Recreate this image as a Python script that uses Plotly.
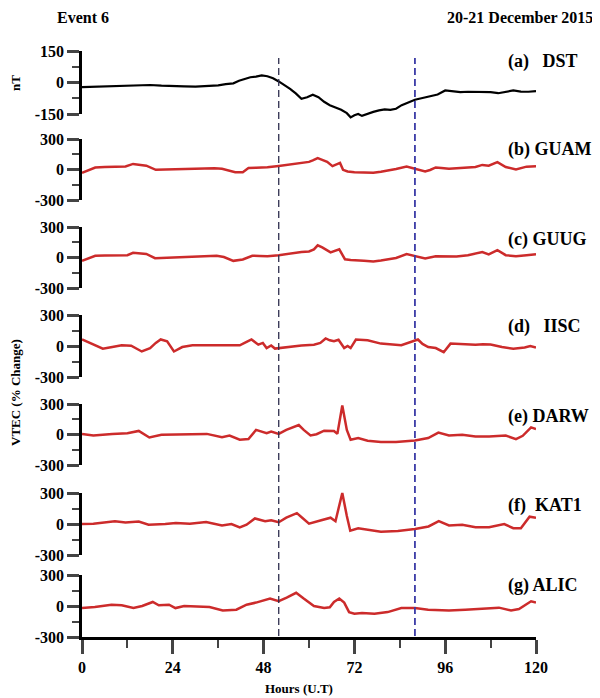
import plotly.graph_objects as go

# ---------------- data ----------------
dst_hours = [0, 3, 6, 9, 12, 15, 18, 21, 24, 27, 30, 33, 36, 38, 40, 41.5, 43, 44.5, 46, 47.5,
             49, 50.5, 52, 53.5, 55, 56.5, 58, 59.5, 61, 62.5, 64, 65.5, 67, 68.5, 70, 71, 72, 73, 74, 75.5,
             77, 78.5, 80, 81.5, 83, 84.5, 86, 88, 90, 92, 94, 96, 98, 100, 102, 104, 106, 108, 110, 112,
             114, 116, 118, 120]
dst_nT = [-22, -20, -19, -17, -15, -13, -12, -15, -18, -18, -20, -17, -14, -8, -4, 8, 18, 25, 28, 34,
          30, 20, 5, -12, -30, -52, -78, -70, -58, -70, -92, -108, -120, -130, -146, -166, -156, -150, -159, -148,
          -140, -133, -128, -130, -125, -108, -96, -82, -74, -66, -57, -38, -43, -46, -44, -44, -43, -46, -51, -44,
          -38, -43, -44, -41]

guam_hours = [0, 1.5, 3.5, 6, 9, 11.5, 13.5, 15, 17, 19.5, 22, 24, 27, 30, 33, 35, 37, 39, 40.5, 42.5,
              44, 46, 49, 52, 54, 56, 58, 60, 61, 62.3, 63.5, 64.8, 66.2, 67.5, 68.2, 69, 70.2, 72, 74.5, 77,
              79, 81, 83, 85.8, 88, 90.7, 92, 93.5, 95, 97, 99, 102, 104, 105.8, 107.5, 109.8, 112, 114.7, 117.5, 120]
guam_pct = [-33, -10, 20, 25, 27, 30, 55, 45, 38, -3, 0, 3, 8, 13, 15, 13, 8, -10, -26, -26,
            15, 18, 22, 35, 45, 55, 62, 75, 90, 112, 95, 75, 33, 50, 65, -3, -20, -27, -30, -33,
            -22, -10, 5, 30, 8, -20, -5, 20, 15, 8, 12, 17, 25, 45, 38, 72, 25, 0, 28, 33]

guug_hours = [0, 1.5, 3.5, 6, 9, 12, 13.5, 15, 17, 19.3, 22, 25, 28, 31, 34, 35.6, 37.5, 40, 42.5, 45,
              47, 49, 52, 54, 56, 58, 60, 61.3, 62.3, 63.5, 65.7, 67, 68, 69.5, 71, 74.5, 77, 79, 81, 83,
              85.8, 88, 90.7, 93.5, 97, 99, 102, 104, 105.8, 107.5, 109.8, 112, 114.7, 117.5, 120]
guug_pct = [-33, -10, 17, 20, 20, 22, 46, 40, 35, -7, -3, 0, 3, 7, 10, 17, 5, -33, -20, 17,
            15, 13, 23, 35, 50, 55, 60, 80, 120, 100, 50, 65, 80, -17, -25, -33, -40, -30, -20, -5,
            33, 13, -10, 13, 7, 10, 23, 35, 53, 30, 72, 23, 13, 23, 33]

iisc_hours = [0, 1.5, 3, 5.5, 8, 10.5, 13, 15.8, 18, 19.5, 20.8, 22.5, 24.3, 26.5, 29.2, 35, 41.7, 43.5, 44.8, 46.6,
              47.8, 48.8, 50, 51, 52, 54.5, 58, 61.3, 63, 64.4, 65.5, 66.6, 67.8, 69.3, 70.2, 71, 72.4, 75.5, 79, 84.4,
              87.1, 88.8, 90, 91.5, 93.5, 95.6, 97.4, 100.5, 104, 106, 108, 111, 114, 117, 118.5, 120]
iisc_pct = [63, 40, 13, -26, -10, 7, 3, -53, -20, 30, 63, 45, -53, -10, 7, 7, 7, 40, 63, 13,
            30, -20, 5, -25, -20, -5, 5, 13, 30, 73, 55, 46, 60, -20, 0, -20, 63, 56, 23, 7,
            46, 63, 20, -10, -20, -60, 23, 17, 13, 17, 15, -10, -26, -15, 0, -15]

darw_hours = [0, 3, 8, 12, 15, 17.8, 21, 25, 30, 33, 37, 39, 41.7, 44, 46, 48.8, 50, 52, 54, 57.3,
              58.6, 60.4, 62, 64, 66.6, 67.5, 68.8, 70, 71, 73, 75.5, 79, 83, 88, 91.5, 94.2, 97, 100.5, 104, 107.6,
              112, 114.7, 116.5, 118.7, 120]
darw_pct = [6, -10, 6, 13, 35, -29, -3, 0, -3, 6, -26, -10, -51, -45, 45, 13, 29, 6, 45, 93,
            45, -10, 3, 38, 35, 6, 285, 45, -51, -35, -61, -74, -74, -58, -35, 19, -10, -3, -19, -19,
            -10, -45, -13, 70, 54]

kat1_hours = [0, 3, 8.7, 11.5, 15, 17.6, 22, 24.8, 28.5, 32.8, 37, 39.5, 41.7, 43.5, 45.7, 48.4, 50, 52, 54, 56.8,
              58.2, 60, 63, 65.7, 67, 68.8, 70, 70.9, 73, 76.5, 79, 83.5, 88, 91.6, 94.3, 97, 100.5, 104, 107.6, 111.6,
              114, 116, 118.3, 120]
kat1_pct = [0, 3, 27, 14, 24, -7, 0, 10, 3, 20, -14, 0, -34, -7, 54, 27, 37, 17, 61, 105,
            61, 3, 34, 61, 27, 300, 78, -65, -41, -65, -75, -68, -48, -24, 27, -14, -7, -31, -31, 0,
            -41, -41, 71, 61]

alic_hours = [0, 3.4, 7.8, 10.5, 13.6, 15.9, 18.7, 20.3, 23, 24.7, 27, 33.7, 37.2, 40.8, 43.5, 46, 49.7, 52, 54.1, 56.6,
              58.6, 61.3, 64, 65.5, 66.6, 68, 69.3, 70.6, 72, 74, 77.3, 80.8, 84.4, 88, 91.5, 97, 101.3, 105.8, 110.2, 113.4,
              115.5, 118.7, 120]
alic_pct = [-20, -10, 13, 7, -20, 0, 39, 7, 13, -20, 0, -10, -43, -36, 13, 33, 72, 46, 82, 128,
            72, 0, -20, -13, 39, 72, 33, -59, -75, -68, -75, -59, -20, -20, -36, -43, -36, -26, -16, -43,
            -30, 46, 33]

panel_labels = ["(a)\u00a0\u00a0\u00a0DST", "(b) GUAM", "(c) GUUG", "(d)\u00a0\u00a0\u00a0IISC",
                "(e) DARW", "(f)\u00a0\u00a0KAT1", "(g) ALIC"]
event_lines = [52, 88]
hour_ticks = [0, 24, 48, 72, 96, 120]

# ---------------- layout helpers ----------------
# the page body has an 8px margin, so the figure is drawn 8px in from the top-left
OFF = 8
W, H = 600 - OFF, 698 - OFF
FONT = "Liberation Serif, Times New Roman, serif"
RED = "#cc2b2b"
PAD = 14  # px of room above/below each panel so curves can overshoot the spine


def px_x(x):
    return (x - OFF) / W


def px_y(y):
    return 1 - (y - OFF) / H


series = [
    (dst_hours, dst_nT, "black", 150),
    (guam_hours, guam_pct, RED, 300),
    (guug_hours, guug_pct, RED, 300),
    (iisc_hours, iisc_pct, RED, 300),
    (darw_hours, darw_pct, RED, 300),
    (kat1_hours, kat1_pct, RED, 300),
    (alic_hours, alic_pct, RED, 300),
]
# panel top/bottom in (screen) pixels
rows_px = [(51, 114), (139, 200), (227, 288), (315, 377), (404, 465), (493, 555), (575, 637)]
x_dom = [px_x(82), px_x(536)]

fig = go.Figure()
layout = dict(
    width=W, height=H,
    margin=dict(l=0, r=0, t=0, b=0, autoexpand=False),
    paper_bgcolor="white", plot_bgcolor="rgba(0,0,0,0)",
    showlegend=False,
    font=dict(family=FONT, color="black"),
)

n = len(series)
for i, (hrs, vals, col, lim) in enumerate(series, start=1):
    sfx = "" if i == 1 else str(i)
    dsfx = str(i + n)  # hidden data axis, same scale, a little taller
    top, bot = rows_px[i - 1]
    extra = PAD * 2 * lim / (bot - top)
    # empty trace so the spine subplot (x_i, y_i) gets drawn
    fig.add_trace(go.Scatter(x=[None], y=[None], mode="lines",
                             xaxis="x" + sfx, yaxis="y" + sfx, hoverinfo="skip"))
    fig.add_trace(go.Scatter(
        x=hrs, y=vals, mode="lines",
        line=dict(color=col, width=2.5 if col == RED else 2.2),
        xaxis="x" + sfx, yaxis="y" + dsfx, hoverinfo="skip",
    ))
    last = i == n
    layout["xaxis" + sfx] = dict(
        domain=x_dom, range=[0, 120], anchor="y" + sfx, automargin=False,
        showgrid=False, zeroline=False,
        showline=last, linecolor="black", linewidth=2.5,
        ticks="outside" if last else "", ticklen=14, tickwidth=2.5,
        tickvals=hour_ticks if last else [], showticklabels=last,
        tickfont=dict(family=FONT, size=16, weight="bold"),
        minor=dict(ticks="outside" if last else "", ticklen=8, tickwidth=2.2,
                   tickvals=[12, 36, 60, 84, 108] if last else []),
    )
    layout["yaxis" + sfx] = dict(
        domain=[px_y(bot), px_y(top)], range=[-lim, lim], anchor="x" + sfx, automargin=False,
        showgrid=False, zeroline=False,
        showline=True, linecolor="black", linewidth=2.5,
        ticks="outside", ticklen=12, tickwidth=2.5,
        tickvals=[-lim, 0, lim], ticktext=["-%d" % lim, "0", str(lim)],
        tickfont=dict(family=FONT, size=16, weight="bold"),
        minor=dict(ticks="outside", ticklen=7, tickwidth=2.2, tickvals=[-lim / 2, lim / 2]),
    )
    layout["yaxis" + dsfx] = dict(
        domain=[px_y(bot + PAD), px_y(top - PAD)], range=[-lim - extra, lim + extra],
        anchor="x" + sfx, visible=False, automargin=False,
        showgrid=False, zeroline=False,
    )

fig.update_layout(**layout)

# vertical dashed event markers
for hx, col, wd in zip(event_lines, ["#2e2e4e", "#3b3ba6"], [1.3, 1.8]):
    fig.add_shape(type="line", xref="x7", yref="paper",
                  x0=hx, x1=hx, y0=px_y(636), y1=px_y(58),
                  line=dict(color=col, width=wd, dash="7px,4px"))

ann = []
# station labels
label_y = [62, 150, 239, 327, 416, 505, 585]
for txt, yy in zip(panel_labels, label_y):
    ann.append(dict(text=txt, x=px_x(506), y=px_y(yy), xref="paper", yref="paper",
                    xanchor="left", yanchor="middle", showarrow=False,
                    font=dict(family=FONT, size=18, weight="bold")))
# headers
ann.append(dict(text="Event 6", x=px_x(55), y=px_y(18), xref="paper", yref="paper",
                xanchor="left", yanchor="middle", showarrow=False,
                font=dict(family=FONT, size=16, weight="bold")))
ann.append(dict(text="20-21 December 2015", x=px_x(595), y=px_y(18), xref="paper", yref="paper",
                xanchor="right", yanchor="middle", showarrow=False,
                font=dict(family=FONT, size=16, weight="bold")))
# axis titles
ann.append(dict(text="nT", x=px_x(15), y=px_y(83), xref="paper", yref="paper", textangle=-90,
                xanchor="center", yanchor="middle", showarrow=False,
                font=dict(family=FONT, size=13, weight="bold")))
ann.append(dict(text="VTEC (% Change)", x=px_x(15), y=px_y(393), xref="paper", yref="paper", textangle=-90,
                xanchor="center", yanchor="middle", showarrow=False,
                font=dict(family=FONT, size=13, weight="bold")))
ann.append(dict(text="Hours (U.T)", x=px_x(299), y=px_y(688), xref="paper", yref="paper",
                xanchor="center", yanchor="middle", showarrow=False,
                font=dict(family=FONT, size=13, weight="bold")))
fig.update_layout(annotations=ann)

fig.write_html("out.html")
